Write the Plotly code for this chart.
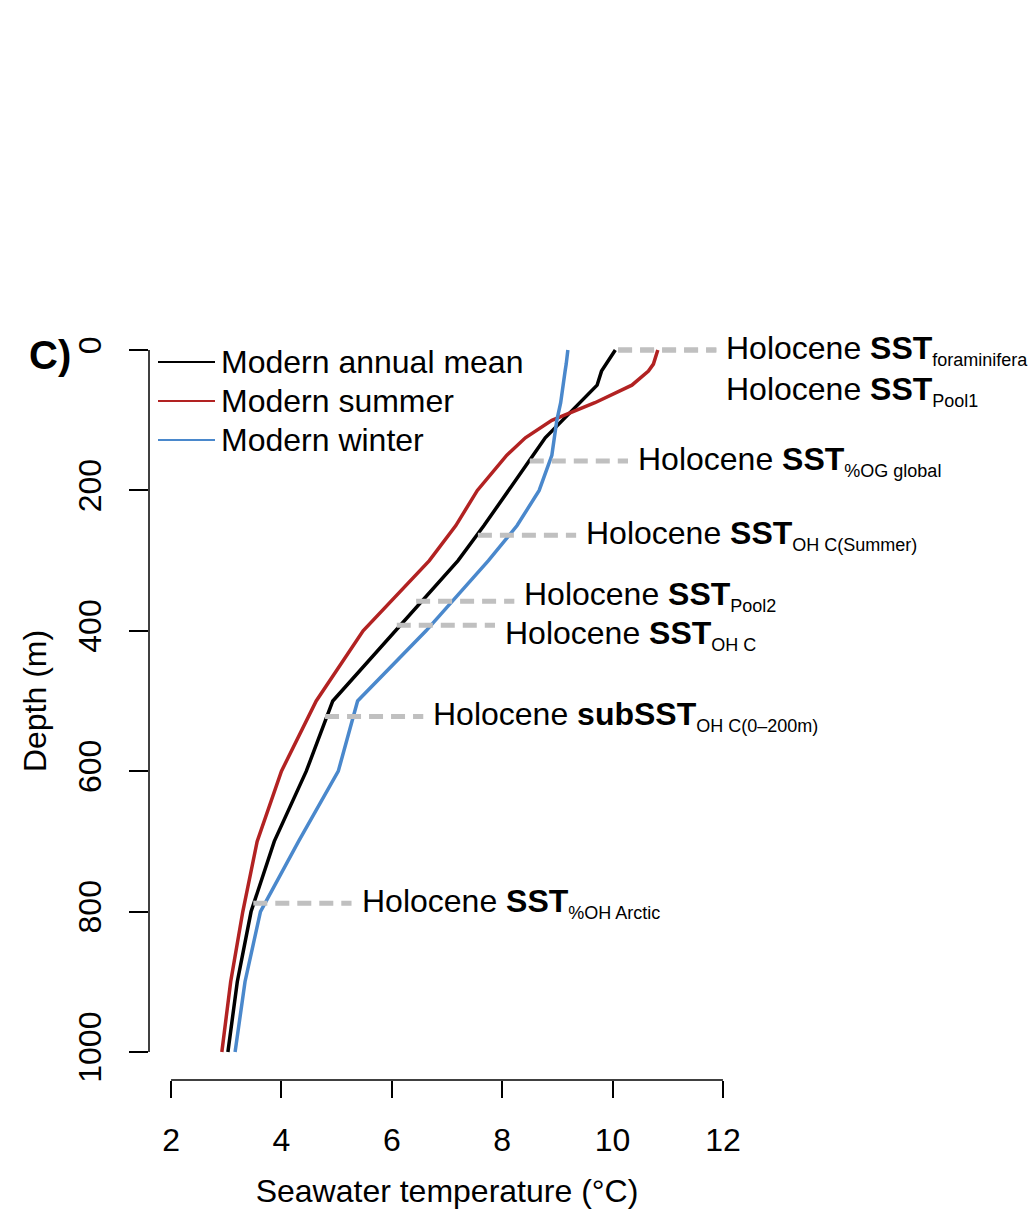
import plotly.graph_objects as go

# Standard depth levels (m)
depth = [0, 10, 20, 30, 50, 75, 100, 125, 150, 200, 250, 300, 400, 500, 600, 700, 800, 900, 1000]

# Modern temperature profiles (°C)
annual_mean = [10.05, 9.97, 9.88, 9.80, 9.72, 9.41, 9.08, 8.78, 8.56, 8.12, 7.67, 7.20, 6.06, 4.93, 4.45, 3.87, 3.45, 3.20, 3.03]
summer = [10.82, 10.78, 10.74, 10.65, 10.35, 9.68, 8.90, 8.42, 8.08, 7.55, 7.16, 6.68, 5.48, 4.63, 4.00, 3.56, 3.30, 3.08, 2.92]
winter = [9.19, 9.18, 9.16, 9.14, 9.11, 9.06, 8.99, 8.94, 8.90, 8.67, 8.27, 7.75, 6.62, 5.38, 5.03, 4.31, 3.62, 3.34, 3.16]

series_names = ["Modern annual mean", "Modern summer", "Modern winter"]
series_colors = ["#000000", "#B22222", "#4A88CC"]

# Holocene reconstructions: label main word, subscript, depth (m), temperature (°C)
holo_word = ["SST", "SST", "SST", "SST", "SST", "SST", "subSST", "SST"]
holo_sub = ["foraminifera", "Pool1", "%OG global", "OH C(Summer)", "Pool2", "OH C", "OH C(0–200m)", "%OH Arctic"]
holo_depth = [0, 0, 158, 264, 358, 392, 522, 788]
holo_temp = [10.10, 10.10, 8.50, 7.56, 6.44, 6.09, 4.79, 3.49]

x_ticks = [2, 4, 6, 8, 10, 12]
y_ticks = [0, 200, 400, 600, 800, 1000]

FONT = "Liberation Sans, Arial, Helvetica, sans-serif"
W, H = 1031, 1210
ML, MR, MT, MB = 149, 286, 322, 130

fig = go.Figure()

for name, vals, col in zip(series_names, [annual_mean, summer, winter], series_colors):
    fig.add_trace(go.Scatter(x=vals, y=depth, mode="lines", name=name,
                             line=dict(color=col, width=3.5), showlegend=False))

# vertical nudges (px) so crowded labels don't collide
label_nudge = {"Pool1": -41, "Pool2": 5, "OH C": -10}

# dashed markers for Holocene estimates + their labels
line_len = 1.78
for word, sub, d, t in zip(holo_word, holo_sub, holo_depth, holo_temp):
    fig.add_trace(go.Scatter(x=[t, t + line_len], y=[d, d], mode="lines",
                             line=dict(color="#C0C0C0", width=5, dash="14px,8px"),
                             showlegend=False, hoverinfo="skip"))
    fig.add_annotation(x=t + line_len, y=d, xref="x", yref="y",
                       text=f"Holocene <b>{word}</b><sub><span style='font-size:18px'>{sub}</span></sub>",
                       showarrow=False, xanchor="left", yanchor="middle",
                       xshift=8, yshift=label_nudge.get(sub, 0),
                       font=dict(family=FONT, size=32, color="black"))

# axis lines spanning first to last tick
fig.add_shape(type="line", xref="x", yref="paper", x0=x_ticks[0], x1=x_ticks[-1], y0=0, y1=0,
              line=dict(color="black", width=1.5))
fig.add_shape(type="line", xref="paper", yref="y", x0=0, x1=0, y0=y_ticks[0], y1=y_ticks[-1],
              line=dict(color="black", width=1.5))

# legend
pw = W - ML - MR
ph = H - MT - MB
def px_x(p):
    return (p - ML) / pw
def px_y(p):
    return (H - MB - p) / ph

for k, (name, col) in enumerate(zip(series_names, series_colors)):
    yy = 362 + 39 * k
    fig.add_shape(type="line", xref="paper", yref="paper", x0=px_x(158), x1=px_x(215),
                  y0=px_y(yy), y1=px_y(yy), line=dict(color=col, width=1.8))
    fig.add_annotation(x=px_x(219), y=px_y(yy), xref="paper", yref="paper", text=name,
                       showarrow=False, xanchor="left", yanchor="middle",
                       font=dict(family=FONT, size=32, color="black"))

# panel tag
fig.add_annotation(x=px_x(73), y=px_y(355), xref="paper", yref="paper", text="<b>C)</b>",
                   showarrow=False, xanchor="right", yanchor="middle",
                   font=dict(family=FONT, size=40, color="black"))

fig.update_layout(
    width=W, height=H,
    margin=dict(l=ML, r=MR, t=MT, b=MB, pad=0, autoexpand=False),
    paper_bgcolor="white", plot_bgcolor="white",
    font=dict(family=FONT, size=32, color="black"),
    xaxis=dict(range=[1.6, 12.4], tickvals=x_ticks, ticks="outside", ticklen=17,
               tickwidth=1.5, tickcolor="black", showgrid=False, zeroline=False,
               showline=False, ticklabelstandoff=15, automargin=False,
               title=dict(text="Seawater temperature (°C)", standoff=22, font=dict(size=32)),
               tickfont=dict(size=32)),
    yaxis=dict(range=[1040, -40], tickvals=y_ticks, ticks="outside", ticklen=19,
               tickwidth=1.5, tickcolor="black", showgrid=False, zeroline=False,
               showline=False, tickangle=-90, ticklabelstandoff=15, automargin=False,
               title=dict(text="Depth (m)", standoff=16, font=dict(size=32)),
               tickfont=dict(size=32)),
    showlegend=False,
)

fig.write_html("out.html")
